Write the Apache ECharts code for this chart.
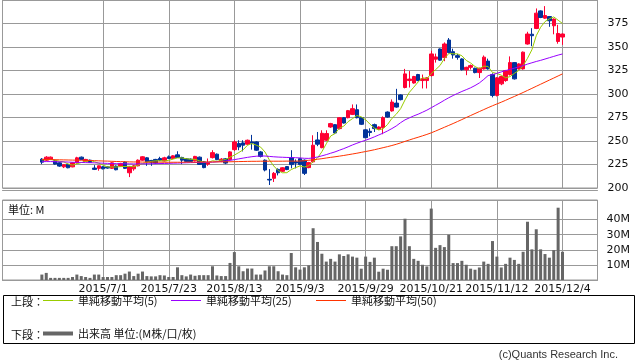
<!DOCTYPE html>
<html><head><meta charset="utf-8">
<script src="https://cdn.jsdelivr.net/npm/echarts@6/dist/echarts.min.js"></script>
<style>html,body{margin:0;padding:0;background:#fff}#c{width:638px;height:362px}</style>
</head><body><div id="c"></div>
<script>
const dates = [
'2015/6/11','2015/6/12','2015/6/15','2015/6/16','2015/6/17','2015/6/18','2015/6/19','2015/6/22','2015/6/23','2015/6/24','2015/6/25','2015/6/26','2015/6/29','2015/6/30',
'2015/7/1','2015/7/2','2015/7/3','2015/7/6','2015/7/7','2015/7/8','2015/7/9','2015/7/10','2015/7/13','2015/7/14','2015/7/15','2015/7/16','2015/7/17','2015/7/21','2015/7/22','2015/7/23','2015/7/24','2015/7/27','2015/7/28','2015/7/29','2015/7/30','2015/7/31',
'2015/8/3','2015/8/4','2015/8/5','2015/8/6','2015/8/7','2015/8/10','2015/8/11','2015/8/12','2015/8/13','2015/8/14','2015/8/17','2015/8/18','2015/8/19','2015/8/20','2015/8/21','2015/8/24','2015/8/25','2015/8/26','2015/8/27','2015/8/28','2015/8/31',
'2015/9/1','2015/9/2','2015/9/3','2015/9/4','2015/9/7','2015/9/8','2015/9/9','2015/9/10','2015/9/11','2015/9/14','2015/9/15','2015/9/16','2015/9/17','2015/9/18','2015/9/24','2015/9/25','2015/9/28','2015/9/29','2015/9/30',
'2015/10/1','2015/10/2','2015/10/5','2015/10/6','2015/10/7','2015/10/8','2015/10/9','2015/10/13','2015/10/14','2015/10/15','2015/10/16','2015/10/19','2015/10/20','2015/10/21','2015/10/22','2015/10/23','2015/10/26','2015/10/27','2015/10/28','2015/10/29','2015/10/30',
'2015/11/2','2015/11/4','2015/11/5','2015/11/6','2015/11/9','2015/11/10','2015/11/11','2015/11/12','2015/11/13','2015/11/16','2015/11/17','2015/11/18','2015/11/19','2015/11/20','2015/11/24','2015/11/25','2015/11/26','2015/11/27','2015/11/30',
'2015/12/1','2015/12/2','2015/12/3','2015/12/4'];

const tickLabels = ['2015/7/1','2015/7/23','2015/8/13','2015/9/3','2015/9/29','2015/10/21','2015/11/12','2015/12/4'];

const opens = [230.7,229.6,230.7,228.9,226.8,222.5,225.1,222.5,226.8,232.8,228.2,229.6,221.2,220.9,
222.5,222.5,220.9,223.3,223.3,227.5,216.2,220.4,223.6,229.6,232.1,229.3,230.4,231.4,228.9,233.2,231.4,235.3,232.5,231.0,230.7,228.9,
232.8,227.8,225.4,232.3,236.0,228.6,231.0,230.2,240.8,247.3,248.0,246.6,249.0,249.0,238.4,229.6,209.2,210.3,219.8,217.8,222.8,
232.3,227.8,231.2,229.6,221.7,227.8,251.1,242.9,250.8,264.9,267.4,263.2,274.8,274.8,278.3,283.3,274.8,261.9,260.3,
267.4,262.5,264.3,280.8,282.0,290.3,299.0,306.9,314.3,311.7,320.7,314.3,314.3,319.6,337.1,347.9,338.7,357.4,345.0,340.8,337.3,
325.7,328.4,327.4,322.8,326.7,335.0,320.7,298.5,310.8,314.3,320.7,333.4,326.7,326.7,353.2,363.6,369.7,388.4,380.7,
382.4,372.6,355.9,360.6];
const closes = [227.5,232.8,232.8,225.4,223.3,224.7,221.5,226.8,232.1,230.4,230.4,227.2,219.8,223.6,
220.4,221.2,226.8,219.4,226.1,220.9,222.5,223.6,229.6,233.2,227.8,227.5,226.5,229.6,232.1,231.4,234.2,232.5,229.6,228.3,228.3,233.6,
225.1,221.7,226.8,237.6,230.2,230.7,226.5,238.4,249.0,243.7,245.5,250.8,247.6,240.2,233.6,219.1,208.5,215.6,216.2,221.5,219.6,
224.9,226.5,224.9,215.6,227.0,245.5,246.6,258.2,257.9,268.5,258.5,274.8,269.1,282.3,284.4,274.8,267.8,253.5,259.0,
263.2,264.9,274.8,275.5,291.4,286.1,294.0,321.4,315.9,318.6,314.3,316.1,317.2,342.6,339.4,336.0,353.2,344.0,341.5,339.0,325.8,
328.4,330.2,322.8,327.4,339.2,326.7,298.5,317.2,318.6,324.9,333.4,316.1,332.0,344.5,363.8,362.0,386.0,381.4,383.5,
377.9,379.7,364.4,363.8];
const lows = [225.4,228.6,230.0,224.8,222.5,221.2,221.0,222.0,226.0,229.8,227.8,226.8,219.1,218.4,
219.8,220.5,220.2,218.8,222.8,220.2,211.6,218.4,223.0,229.0,223.6,223.6,225.8,228.6,228.2,230.7,230.7,232.0,225.4,227.5,227.8,228.2,
224.6,221.0,223.6,231.4,229.6,227.5,225.4,229.6,239.4,240.2,238.9,245.8,240.8,239.4,232.5,217.7,203.2,206.4,213.4,217.0,219.0,
220.9,220.9,224.3,213.8,221.0,226.8,244.5,242.3,250.0,264.0,257.8,262.3,268.5,274.1,277.6,274.1,267.0,253.3,255.0,
259.6,262.0,257.2,274.8,281.2,285.4,293.2,306.0,306.9,311.0,313.6,305.9,305.9,318.6,333.4,335.3,334.9,343.3,337.6,336.5,325.0,
320.0,326.0,322.0,317.0,326.0,326.0,296.4,297.4,309.4,313.0,319.6,315.4,326.0,326.0,352.5,350.8,369.0,380.7,380.0,
371.5,363.5,353.5,352.3];
const highs = [231.8,233.9,233.5,229.6,227.5,225.4,225.6,227.5,233.2,233.5,231.0,230.2,224.3,224.0,
223.3,223.0,227.5,224.0,226.8,228.2,223.3,224.3,230.4,233.9,232.8,229.9,231.0,233.2,233.2,234.6,234.9,239.1,233.2,231.8,231.4,234.2,
233.5,228.5,231.4,240.2,236.7,231.8,231.8,239.1,250.8,250.8,250.8,251.5,256.5,249.7,239.4,230.4,220.1,217.0,220.9,222.2,223.3,
240.2,230.4,231.8,230.4,227.8,256.1,259.6,261.4,261.4,269.3,268.0,275.5,275.5,283.0,288.9,288.9,275.5,262.5,263.5,
268.5,265.6,276.2,281.5,294.2,305.5,299.8,326.7,324.4,319.3,321.4,320.7,317.9,346.1,343.0,348.5,354.9,359.5,348.2,342.6,338.0,
329.0,331.3,328.0,328.0,341.0,337.6,322.0,318.0,319.3,325.6,340.0,334.0,332.7,345.2,366.2,370.0,391.0,389.0,393.5,
383.0,380.4,373.6,364.5];

const ma5 = [229.9,230.2,230.5,229.6,228.4,227.8,225.5,224.3,225.7,227.1,228.2,229.4,228.0,226.3,
224.3,222.4,222.4,222.3,222.8,222.9,223.1,222.5,224.5,226.0,227.3,228.3,228.9,228.9,228.7,229.4,230.8,232.0,232.0,231.2,230.6,230.5,
229.0,227.4,227.1,229.0,228.3,229.4,230.4,232.7,235.0,237.7,240.6,245.5,247.3,245.6,243.5,238.3,229.8,223.4,218.6,216.2,216.3,
219.6,221.7,223.5,222.3,223.8,227.9,231.9,238.6,247.0,255.3,257.9,263.6,265.8,270.6,273.8,277.1,275.7,272.6,267.9,
263.7,261.7,263.1,267.5,274.0,278.5,284.4,293.7,301.8,307.2,312.8,317.3,316.4,321.8,325.9,330.3,337.7,343.0,342.8,342.7,340.7,
335.7,333.0,329.2,326.9,329.6,329.3,322.9,321.8,320.0,317.2,318.5,322.0,325.0,330.2,338.0,347.0,362.0,371.0,377.0,
380.0,382.0,378.5,375.0];
const ma25 = [228.0,228.1,228.1,228.0,227.9,227.8,227.6,227.4,227.3,227.2,227.0,226.9,226.8,226.6,
226.4,226.2,226.0,225.9,225.8,225.7,225.7,225.6,225.6,225.7,225.8,225.8,225.9,226.0,226.1,226.2,226.4,226.5,226.7,226.8,227.0,227.1,
227.2,227.2,227.3,227.5,227.8,228.3,228.8,229.4,230.2,231.0,231.8,232.6,233.3,233.8,234.1,234.0,233.6,233.2,232.9,232.7,232.5,
232.4,232.2,232.0,231.6,231.5,232.0,233.0,234.2,235.5,237.0,238.4,240.2,241.9,243.8,245.8,247.6,249.3,250.8,252.5,
254.4,256.4,258.4,260.7,263.2,266.0,269.5,272.5,274.6,276.7,278.5,280.6,282.8,285.4,288.0,290.6,293.4,296.0,298.4,300.6,302.7,
304.6,306.6,309.0,311.8,315.5,319.6,320.5,322.0,323.5,324.9,326.2,327.5,328.8,330.2,331.8,333.2,334.6,335.8,337.2,
338.6,340.0,341.4,342.6];
const ma50 = [230.4,230.3,230.2,230.1,230.0,229.9,229.8,229.7,229.6,229.5,229.4,229.3,229.1,228.9,
228.7,228.6,228.4,228.2,228.1,227.9,227.8,227.7,227.7,227.6,227.6,227.5,227.5,227.5,227.4,227.4,227.4,227.4,227.4,227.5,227.5,227.5,
227.6,227.6,227.7,227.7,227.8,227.8,227.9,227.9,228.0,228.1,228.2,228.3,228.4,228.4,228.5,228.5,228.5,228.5,228.5,228.5,228.6,
228.6,228.6,228.7,229.0,229.5,230.0,230.6,231.2,231.9,232.6,233.2,233.9,234.6,235.4,236.2,237.0,237.9,238.8,239.7,
240.7,241.8,242.9,244.0,245.2,246.5,248.0,249.6,251.1,252.6,254.0,255.5,257.0,258.7,260.6,262.6,264.6,266.6,268.6,270.7,272.8,
275.0,277.1,279.2,281.3,283.4,285.5,287.5,289.4,291.3,293.3,295.4,297.4,299.5,301.6,303.8,306.0,308.2,310.4,312.6,
314.8,317.0,319.2,321.4];
const volume = [3.6,4.7,1.4,1.4,1.4,1.4,1.4,2.0,3.6,2.6,2.0,1.4,3.6,3.6,
2.0,2.0,2.0,3.2,3.2,4.2,5.6,2.6,4.2,5.6,2.6,2.4,2.4,3.2,3.0,2.0,2.0,8.4,3.2,2.4,3.6,2.8,
3.2,3.2,3.2,9.1,3.0,2.6,2.6,11.3,18.5,9.1,5.8,7.6,7.6,3.6,3.6,6.3,9.1,9.1,5.8,3.6,3.2,
17.9,8.4,6.9,8.4,9.7,34.3,25.2,17.4,12.2,14.0,12.2,17.0,15.9,17.0,15.5,14.8,7.5,15.5,12.0,
14.8,5.5,7.5,6.8,22.4,22.4,28.9,40.6,22.4,14.0,12.7,10.1,9.0,47.3,21.3,23.1,21.8,30.0,11.2,11.2,12.7,
10.1,7.5,6.8,8.3,12.2,10.7,25.8,15.5,8.3,10.7,14.8,13.3,10.7,18.7,38.6,20.3,33.6,20.3,17.2,
14.8,19.8,47.9,18.7];

const PAD_BEFORE = 9, PAD_AFTER = 8;
const cats = [];
for (let i = 0; i < PAD_BEFORE; i++) cats.push('_b' + i);
dates.forEach(d => cats.push(d));
for (let i = 0; i < PAD_AFTER; i++) cats.push('_a' + i);
const pad = arr => [].concat(Array(PAD_BEFORE).fill('-'), arr, Array(PAD_AFTER).fill('-'));
const candle = pad(dates.map((d, i) => [opens[i], closes[i], lows[i], highs[i]]));
const tickSet = new Set(tickLabels);
const showTick = (idx, val) => tickSet.has(val);

const GRID_L = 2.5, GRID_W = 595;
const jp = '"Noto Sans CJK JP", sans-serif';
const UP = '#ff0033', DOWN = '#003399';

const chart = echarts.init(document.getElementById('c'), null, {renderer: 'canvas'});
chart.setOption({
  animation: false,
  backgroundColor: '#fff',
  grid: [
    {left: GRID_L, width: GRID_W, top: 0, height: 188, show: true, borderColor: '#999', borderWidth: 1},
    {left: GRID_L, width: GRID_W, top: 200, height: 80, show: true, borderColor: '#999', borderWidth: 1}
  ],
  xAxis: [
    {type: 'category', gridIndex: 0, data: cats, boundaryGap: false, offset: 2,
     axisLine: {show: true, lineStyle: {color: '#999'}}, axisTick: {show: false}, axisLabel: {show: false},
     splitLine: {show: true, interval: showTick, lineStyle: {color: '#999', width: 1}}},
    {type: 'category', gridIndex: 1, data: cats, boundaryGap: false,
     axisLine: {show: true, lineStyle: {color: '#999'}}, axisTick: {show: false},
     axisLabel: {show: true, interval: showTick, margin: 4, color: '#111', fontSize: 11, fontFamily: '"DejaVu Sans"'},
     splitLine: {show: true, interval: showTick, lineStyle: {color: '#999', width: 1}}}
  ],
  yAxis: [
    {type: 'value', gridIndex: 0, position: 'right', min: 200, max: 400, interval: 25,
     axisLine: {show: false}, axisTick: {show: false},
     axisLabel: {margin: 10, color: '#111', fontSize: 11, fontFamily: '"DejaVu Sans"', formatter: v => v >= 400 ? '' : String(v)},
     splitLine: {show: true, lineStyle: {color: '#999', width: 1}}},
    {type: 'value', gridIndex: 1, position: 'right', min: 0, max: 53, interval: 10,
     axisLine: {show: false}, axisTick: {show: false},
     axisLabel: {margin: 9, color: '#111', fontSize: 11, fontFamily: '"DejaVu Sans"', formatter: v => (v > 0 && v <= 40) ? v + 'M' : ''},
     splitLine: {show: true, lineStyle: {color: ['#999','#999','#999','#999','#999','rgba(0,0,0,0)','#999'], width: 1}}}
  ],
  legend: [
    {data: ['単純移動平均(5)'], left: 43, top: 295, padding: 0, icon: 'rect', itemWidth: 30, itemHeight: 1, itemGap: 5, selectedMode: false,
     textStyle: {fontSize: 11, fontFamily: jp, color: '#111'}},
    {data: ['単純移動平均(25)'], left: 171, top: 295, padding: 0, icon: 'rect', itemWidth: 30, itemHeight: 1, selectedMode: false,
     textStyle: {fontSize: 11, fontFamily: jp, color: '#111'}},
    {data: ['単純移動平均(50)'], left: 316, top: 295, padding: 0, icon: 'rect', itemWidth: 30, itemHeight: 1, selectedMode: false,
     textStyle: {fontSize: 11, fontFamily: jp, color: '#111'}},
    {data: ['出来高 単位:(M株/口/枚)'], left: 43, top: 328, padding: 0, icon: 'rect', itemWidth: 30, itemHeight: 4, selectedMode: false,
     textStyle: {fontSize: 11, fontFamily: jp, color: '#111'}}
  ],
  graphic: [
    {type: 'rect', shape: {x: 3.5, y: 295.5, width: 631, height: 48}, style: {fill: 'none', stroke: '#000', lineWidth: 1}, z: 10},
    {type: 'text', x: 11, y: 302, style: {text: '上段：', font: '11px ' + jp, fill: '#111', verticalAlign: 'middle'}},
    {type: 'text', x: 11, y: 335, style: {text: '下段：', font: '11px ' + jp, fill: '#111', verticalAlign: 'middle'}},
    {type: 'text', x: 8, y: 210, style: {text: '単位: M', font: '11px ' + jp, fill: '#111', verticalAlign: 'middle'}},
    {type: 'text', x: 618, y: 355, style: {text: '(c)Quants Research Inc.', font: '11px "Liberation Sans"', fill: '#333', align: 'right', verticalAlign: 'middle'}}
  ],
  series: [
    {name: '株価', type: 'candlestick', xAxisIndex: 0, yAxisIndex: 0, data: candle, barWidth: 4,
     itemStyle: {color: UP, color0: DOWN, borderColor: UP, borderColor0: DOWN, borderWidth: 1}, z: 2},
    {name: '単純移動平均(5)', type: 'line', xAxisIndex: 0, yAxisIndex: 0, data: pad(ma5), symbol: 'none',
     lineStyle: {color: '#99cc00', width: 1}, itemStyle: {color: '#99cc00'}, z: 3},
    {name: '単純移動平均(25)', type: 'line', xAxisIndex: 0, yAxisIndex: 0, data: pad(ma25), symbol: 'none',
     lineStyle: {color: '#9900ff', width: 1}, itemStyle: {color: '#9900ff'}, z: 3},
    {name: '単純移動平均(50)', type: 'line', xAxisIndex: 0, yAxisIndex: 0, data: pad(ma50), symbol: 'none',
     lineStyle: {color: '#ff3300', width: 1}, itemStyle: {color: '#ff3300'}, z: 3},
    {name: '出来高 単位:(M株/口/枚)', type: 'bar', xAxisIndex: 1, yAxisIndex: 1, data: pad(volume), barWidth: 3,
     itemStyle: {color: '#666666'}}
  ]
});
</script></body></html>
